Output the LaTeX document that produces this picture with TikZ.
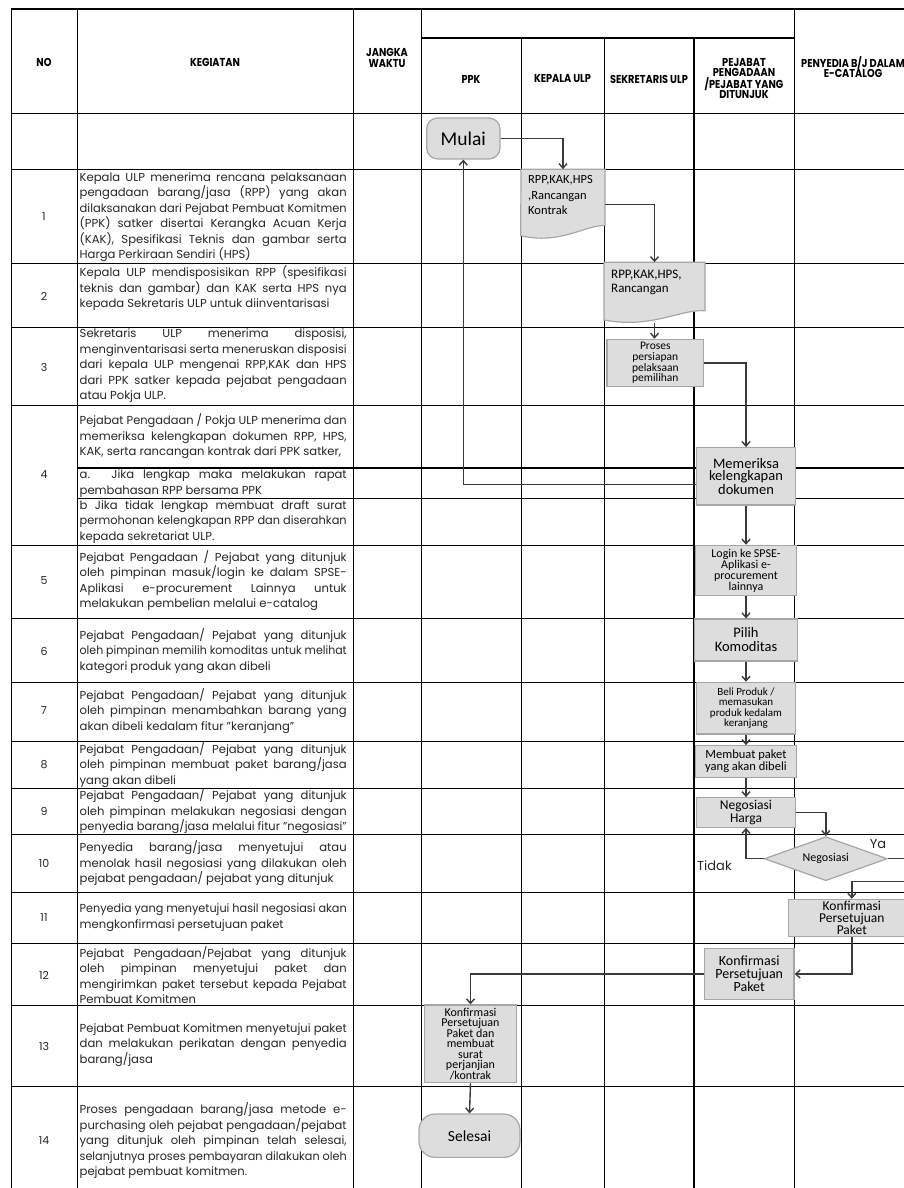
\documentclass[tikz,border=0pt]{standalone}
\usepackage{fontspec}
\setmainfont{Poppins}
\newfontfamily\carl{Carlito}
\newfontfamily\hdrfont{Poppins}[FakeStretch=0.85]
\usetikzlibrary{arrows.meta,shapes.geometric}
\definecolor{boxfill}{HTML}{DDDDDD}
\definecolor{boxline}{HTML}{A6A6A6}
\definecolor{wire}{HTML}{3A3A3A}
\definecolor{ink}{HTML}{262626}
\newsavebox{\kegline}
\newcommand{\jline}[1]{\sbox{\kegline}{#1}\ifdim\wd\kegline>267pt\resizebox{267pt}{\height}{\usebox{\kegline}}\else\makebox[267pt][s]{#1}\fi}
\newcommand{\lline}[1]{\sbox{\kegline}{#1}\ifdim\wd\kegline>267pt\resizebox{267pt}{\height}{\usebox{\kegline}}\else\usebox{\kegline}\fi}

\begin{document}
\begin{tikzpicture}[x=1pt,y=-1pt]
\tikzstyle{every node}+=[inner sep=0pt]
\tikzstyle{gridline}=[black, line width=0.9pt]
\tikzstyle{gridbold}=[black, line width=2pt]
\tikzstyle{hdr}=[font=\hdrfont\fontsize{11.5}{10.5}\selectfont\bfseries, align=center]
\tikzstyle{rownum}=[font=\fontsize{11}{12}\selectfont, text=ink]
\tikzstyle{kegiatan}=[anchor=west, font=\fontsize{11.6}{15.5}\selectfont, text=ink, align=left]
\tikzstyle{flowbox}=[draw=boxline, fill=boxfill, line width=1.2pt, align=center]
\tikzstyle{terminal}=[flowbox, font=\carl]
\tikzstyle{docbox}=[draw=boxline, fill=boxfill, line width=1.2pt]
\tikzstyle{doctext}=[anchor=north west, align=left]
\tikzstyle{flowline}=[wire, line width=1.4pt, -{Straight Barb[length=4.5pt,width=8pt]}]
\tikzstyle{answer}=[font=\fontsize{13}{13}\selectfont, text=ink]
\useasboundingbox (0,0) rectangle (904,1188);
\clip (0,0) rectangle (904,1188);
\draw [gridbold] (11,9.5) -- (920,9.5);
\draw [gridbold] (421,38) -- (794,38);
\draw [gridline] (11,113) -- (920,113);
\draw [gridline] (11,169) -- (920,169);
\draw [gridline] (11,263) -- (920,263);
\draw [gridline] (11,327) -- (920,327);
\draw [gridline] (11,405.5) -- (920,405.5);
\draw [gridbold] (77,468) -- (920,468);
\draw [gridline] (77,498) -- (920,498);
\draw [gridline] (11,545.3) -- (920,545.3);
\draw [gridline] (11,618.3) -- (920,618.3);
\draw [gridline] (11,682.3) -- (920,682.3);
\draw [gridline] (11,741) -- (920,741);
\draw [gridline] (11,788.3) -- (920,788.3);
\draw [gridline] (11,834) -- (920,834);
\draw [gridline] (11,892.3) -- (920,892.3);
\draw [gridline] (11,943.3) -- (920,943.3);
\draw [gridline] (11,1005.3) -- (920,1005.3);
\draw [gridline] (11,1086) -- (920,1086);
\draw [gridline] (11,9.5) -- (11,1195);
\draw [gridline] (77,9.5) -- (77,1195);
\draw [gridline] (353,9.5) -- (353,1195);
\draw [gridline] (421,9.5) -- (421,1195);
\draw [gridline] (521,38) -- (521,1195);
\draw [gridline] (604,38) -- (604,1195);
\draw [gridbold] (694,38) -- (694,1195);
\draw [gridline] (794,9.5) -- (794,1195);
\node [hdr] (hno) at (44,62) {NO};
\node [hdr] (hkegiatan) at (215,62) {KEGIATAN};
\node [hdr] (hjangka) at (387,58) {JANGKA\\WAKTU};
\node [hdr] (hppk) at (471,79) {PPK};
\node [hdr] (hkepala) at (562.5,79) {KEPALA ULP};
\node [hdr] (hsekretaris) at (649,79) {SEKRETARIS ULP};
\node [hdr] (hpejabat) at (744,78.5) {PEJABAT\\PENGADAAN\\/PEJABAT YANG\\DITUNJUK};
\node [hdr] (hpenyedia) at (853,67) {PENYEDIA B/J DALAM\\E-CATALOG};
\node [rownum] (no1) at (44,217) {1};
\node [rownum] (no2) at (44,296) {2};
\node [rownum] (no3) at (44,367) {3};
\node [rownum] (no4) at (44,475) {4};
\node [rownum] (no5) at (44,581) {5};
\node [rownum] (no6) at (44,651) {6};
\node [rownum] (no7) at (44,711) {7};
\node [rownum] (no8) at (44,765) {8};
\node [rownum] (no9) at (44,811) {9};
\node [rownum] (no10) at (44,863) {10};
\node [rownum] (no11) at (44,918) {11};
\node [rownum] (no12) at (44,975) {12};
\node [rownum] (no13) at (44,1046) {13};
\node [rownum] (no14) at (44,1141) {14};
\node [kegiatan] (keg1) at (79.5,217) {\jline{Kepala ULP menerima rencana pelaksanaan}\\\jline{pengadaan barang/jasa (RPP) yang akan}\\\jline{dilaksanakan dari Pejabat Pembuat Komitmen}\\\jline{(PPK) satker disertai Kerangka Acuan Kerja}\\\jline{(KAK), Spesifikasi Teknis dan gambar serta}\\\lline{Harga Perkiraan Sendiri (HPS)}};
\node [kegiatan] (keg2) at (79.5,288.5) {\jline{Kepala ULP mendisposisikan RPP (spesifikasi}\\\jline{teknis dan gambar) dan KAK serta HPS nya}\\\lline{kepada Sekretaris ULP untuk diinventarisasi}};
\node [kegiatan] (keg3) at (79.5,366) {\jline{Sekretaris ULP menerima disposisi,}\\\jline{menginventarisasi serta meneruskan disposisi}\\\jline{dari kepala ULP mengenai RPP,KAK dan HPS}\\\jline{dari PPK satker kepada pejabat pengadaan}\\\lline{atau Pokja ULP.}};
\node [kegiatan] (keg4) at (79.5,436.5) {\jline{Pejabat Pengadaan / Pokja ULP menerima dan}\\\jline{memeriksa kelengkapan dokumen RPP, HPS,}\\\lline{KAK, serta rancangan kontrak dari PPK satker,}};
\node [kegiatan] (keg4a) at (79.5,483.5) {\jline{a. Jika lengkap maka melakukan rapat}\\\lline{pembahasan RPP bersama PPK}};
\node [kegiatan] (keg4b) at (79.5,522) {\jline{b Jika tidak lengkap membuat draft surat}\\\jline{permohonan kelengkapan RPP dan diserahkan}\\\lline{kepada sekretariat ULP.}};
\node [kegiatan] (keg5) at (79.5,580.5) {\jline{Pejabat Pengadaan / Pejabat yang ditunjuk}\\\jline{oleh pimpinan masuk/login ke dalam SPSE-}\\\jline{Aplikasi e-procurement Lainnya untuk}\\\lline{melakukan pembelian melalui e-catalog}};
\node [kegiatan] (keg6) at (79.5,651) {\jline{Pejabat Pengadaan/ Pejabat yang ditunjuk}\\\jline{oleh pimpinan memilih komoditas untuk melihat}\\\lline{kategori produk yang akan dibeli}};
\node [kegiatan] (keg7) at (79.5,711) {\jline{Pejabat Pengadaan/ Pejabat yang ditunjuk}\\\jline{oleh pimpinan menambahkan barang yang}\\\lline{akan dibeli kedalam fitur "keranjang"}};
\node [kegiatan] (keg8) at (79.5,765) {\jline{Pejabat Pengadaan/ Pejabat yang ditunjuk}\\\jline{oleh pimpinan membuat paket barang/jasa}\\\lline{yang akan dibeli}};
\node [kegiatan] (keg9) at (79.5,811.5) {\jline{Pejabat Pengadaan/ Pejabat yang ditunjuk}\\\jline{oleh pimpinan melakukan negosiasi dengan}\\\lline{penyedia barang/jasa melalui fitur "negosiasi"}};
\node [kegiatan] (keg10) at (79.5,863.5) {\jline{Penyedia barang/jasa menyetujui atau}\\\jline{menolak hasil negosiasi yang dilakukan oleh}\\\lline{pejabat pengadaan/ pejabat yang ditunjuk}};
\node [kegiatan] (keg11) at (79.5,917.5) {\jline{Penyedia yang menyetujui hasil negosiasi akan}\\\lline{mengkonfirmasi persetujuan paket}};
\node [kegiatan] (keg12) at (79.5,975) {\jline{Pejabat Pengadaan/Pejabat yang ditunjuk}\\\jline{oleh pimpinan menyetujui paket dan}\\\jline{mengirimkan paket tersebut kepada Pejabat}\\\lline{Pembuat Komitmen}};
\node [kegiatan] (keg13) at (79.5,1045) {\jline{Pejabat Pembuat Komitmen menyetujui paket}\\\jline{dan melakukan perikatan dengan penyedia}\\\lline{barang/jasa}};
\node [kegiatan] (keg14) at (79.5,1141) {\jline{Proses pengadaan barang/jasa metode e-}\\\jline{purchasing oleh pejabat pengadaan/pejabat}\\\jline{yang ditunjuk oleh pimpinan telah selesai,}\\\jline{selanjutnya proses pembayaran dilakukan oleh}\\\lline{pejabat pembuat komitmen.}};
\draw [docbox] (521,169.3) -- (605,169.3) -- (605,225.5) .. controls (585,225) and (560,245) .. (520.7,235.7) -- cycle;
\draw [docbox] (604,262.3) -- (705,262.3) -- (705,310.7) .. controls (680,309) and (652,329) .. (604,320) -- cycle;
\node [minimum width=84pt, minimum height=69.7pt] (doc1) at (563,204.2) {};
\node [minimum width=101pt, minimum height=60.2pt] (doc2) at (654.5,292.4) {};
\node [doctext, font=\carl\fontsize{12.5}{15.3}\selectfont] (doc1text) at (528,175.5) {RPP,KAK,HPS\\,Rancangan\\Kontrak};
\node [doctext, font=\carl\fontsize{13}{14.7}\selectfont] (doc2text) at (611,269.5) {RPP,KAK,HPS,\\Rancangan};
\node [terminal, rounded corners=11pt, minimum width=73.3pt, minimum height=41pt, font=\carl\fontsize{19.5}{20}\selectfont] (mulai) at (463.3,138.5) {Mulai};
\node [flowbox, minimum width=96.7pt, minimum height=47.4pt, font=\carl\fontsize{11.5}{10.6}\selectfont] (proses) at (655.3,363) {Proses\\persiapan\\pelaksaan\\pemilihan};
\node [flowbox, minimum width=99pt, minimum height=57.3pt, font=\carl\fontsize{14.5}{12.5}\selectfont] (memeriksa) at (746,476.3) {Memeriksa\\kelengkapan\\dokumen};
\node [flowbox, minimum width=100.4pt, minimum height=50.4pt, font=\carl\fontsize{12}{11}\selectfont] (login) at (746,570.5) {Login ke SPSE-\\Aplikasi e-\\procurement\\lainnya};
\node [flowbox, minimum width=102.6pt, minimum height=42pt, font=\carl\fontsize{14.5}{14}\selectfont] (pilih) at (746,640) {Pilih\\Komoditas};
\node [flowbox, minimum width=99pt, minimum height=51.7pt, font=\carl\fontsize{11}{10.5}\selectfont] (beli) at (746,708.2) {Beli Produk /\\memasukan\\produk kedalam\\keranjang};
\node [flowbox, minimum width=100.7pt, minimum height=31.6pt, font=\carl\fontsize{12.5}{12}\selectfont] (membuat) at (746,761.5) {Membuat paket\\yang akan dibeli};
\node [flowbox, minimum width=98.6pt, minimum height=29.6pt, font=\carl\fontsize{13.5}{12.5}\selectfont] (negharga) at (746,812.5) {Negosiasi\\Harga};
\node [flowbox, diamond, aspect=2.8, minimum width=123pt, minimum height=44pt, font=\carl\fontsize{12}{12}\selectfont] (negosiasi) at (825.8,858.7) {Negosiasi};
\node [flowbox, minimum width=126.2pt, minimum height=37.4pt, font=\carl\fontsize{13.5}{11.5}\selectfont] (konfirmasi1) at (851.8,918) {Konfirmasi\\Persetujuan\\Paket};
\node [flowbox, minimum width=89.7pt, minimum height=50.6pt, font=\carl\fontsize{14}{13}\selectfont] (konfirmasi2) at (749.2,974) {Konfirmasi\\Persetujuan\\Paket};
\node [flowbox, minimum width=91.6pt, minimum height=77.7pt, font=\carl\fontsize{12}{10.5}\selectfont] (konfirmasi3) at (470.5,1043.8) {Konfirmasi\\Persetujuan\\Paket dan\\membuat\\surat\\perjanjian\\/kontrak};
\node [terminal, rounded corners=16pt, minimum width=101pt, minimum height=43.3pt, font=\carl\fontsize{15.5}{16}\selectfont] (selesai) at (469.5,1135.7) {Selesai};
\node [answer, anchor=west] (tidak) at (697,866) {Tidak};
\node [answer] (ya) at (878,844) {Ya};
\coordinate (yaturn) at (915,881.7);
\draw [flowline] (mulai.east) -| (doc1.north);
\draw [flowline] (doc1.east) -| (doc2.north);
\draw [flowline] (doc2.south) -- (doc2.south |- proses.north);
\draw [flowline] (proses.east) -| (memeriksa.north);
\draw [flowline] ([yshift=-8pt]memeriksa.west) -| (mulai.south);
\draw [flowline] (memeriksa.south) -- (login.north);
\draw [flowline] (login.south) -- (pilih.north);
\draw [flowline] (pilih.south) -- (beli.north);
\draw [flowline] (beli.south) -- (membuat.north);
\draw [flowline] (membuat.south) -- (negharga.north);
\draw [flowline] (negharga.east) -| (negosiasi.north);
\draw [flowline] (negosiasi.west) -| (negharga.south);
\draw [flowline] (negosiasi.east) -| (yaturn) -| (konfirmasi1.north);
\draw [flowline] (konfirmasi1.south) |- (konfirmasi2.east);
\draw [flowline] (konfirmasi2.west) -| (konfirmasi3.north);
\draw [flowline] (konfirmasi3.south) -- (selesai.north);
\end{tikzpicture}
\end{document}
